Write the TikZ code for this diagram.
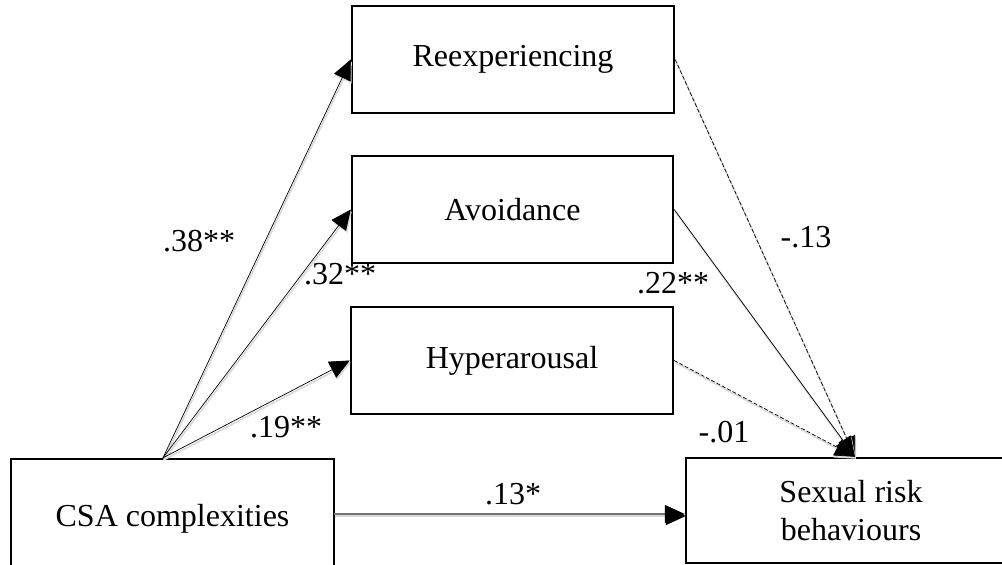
\documentclass[tikz,border=0pt]{standalone}
\usepackage{fontspec}
\setmainfont{Liberation Serif}
\usetikzlibrary{arrows.meta}
\begin{document}
\begin{tikzpicture}[x=1pt,y=1pt,
  box/.style={draw=black, line width=2.4pt, minimum width=#1, inner sep=0pt, align=center,
              font=\fontsize{32}{38}\selectfont},
  lbl/.style={inner sep=0pt, font=\fontsize{32}{38}\selectfont},
  shad/.style={preaction={draw=black!15, line width=1.6pt, solid,
               transform canvas={shift={(1pt,-2pt)}}}},
  path/.style={draw=black, line width=0.7pt, shad,
               -{Triangle[length=20pt,width=18pt]}},
  dpath/.style={path, dash pattern=on 4pt off 2pt},
  direct/.style={draw=black!55, line width=1.2pt, shad,
               -{Triangle[length=20pt,width=18pt,fill=black,color=black]}}
]
\useasboundingbox (0,0) rectangle (1002,565);

\node[box=322pt, minimum height=107pt] (re) at (513,505.5) {Reexperiencing};
\node[box=321pt, minimum height=107pt] (av) at (512.5,355.5) {Avoidance};
\node[box=322pt, minimum height=107pt] (hy) at (512,204.5) {Hyperarousal};
\node[box=323pt, minimum height=120pt] (csa) at (172.5,46) {CSA complexities};
\node[box=330pt, minimum height=105pt] (sex) at (851,54.5) {Sexual risk\\behaviours};

\coordinate (src) at ([xshift=-9.5pt]csa.north);
\coordinate (tgt) at ([xshift=4pt]sex.north);
\coordinate (csaR) at (334,51);

\draw[path] (src) -- (re.west);
\draw[path] (src) -- (av.west);
\draw[path] (src) -- (hy.west);
\draw[dpath] (re.east) -- (tgt);
\draw[path] (av.east) -- (tgt);
\draw[dpath] (hy.east) -- (tgt);
\draw[direct] (csaR) -- (csaR -| sex.west);

\node[lbl] (l1) at (199,324) {.38**};
\node[lbl] (l2) at (340,291) {.32**};
\node[lbl] (l3) at (286,138) {.19**};
\node[lbl] (l4) at (673,282) {.22**};
\node[lbl] (l5) at (806,328) {-.13};
\node[lbl] (l6) at (724,133) {-.01};
\node[lbl] (l7) at (513,71) {.13*};
\end{tikzpicture}
\end{document}
